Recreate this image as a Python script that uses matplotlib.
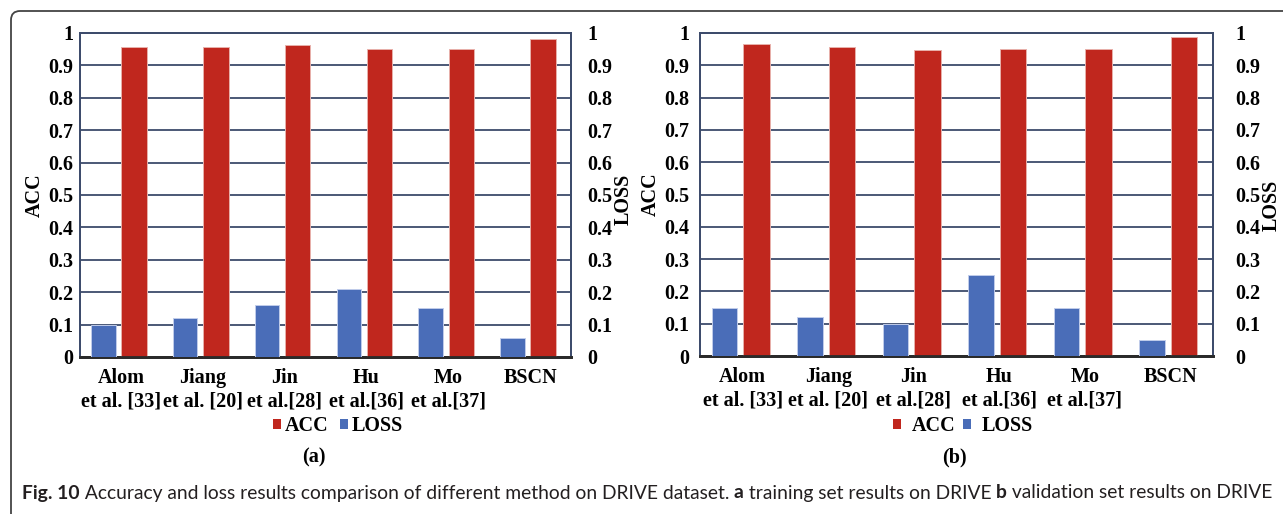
import numpy as np
import matplotlib
matplotlib.use("Agg")
import matplotlib.pyplot as plt
from matplotlib.patches import Patch, FancyBboxPatch

# -----------------------
# Data
# -----------------------

methods = ["Alom\net al. [33]", "Jiang\net al. [20]", "Jin\net al.[28]",
           "Hu\net al.[36]", "Mo\net al.[37]", "BSCN"]

acc_train = [0.958, 0.958, 0.962, 0.951, 0.951, 0.981]
loss_train = [0.10, 0.12, 0.16, 0.21, 0.15, 0.06]

acc_val = [0.965, 0.956, 0.946, 0.951, 0.951, 0.988]
loss_val = [0.15, 0.12, 0.10, 0.25, 0.15, 0.05]

yticks = [0, 0.1, 0.2, 0.3, 0.4, 0.5, 0.6, 0.7, 0.8, 0.9, 1]
panel_tags = ["(a)", "(b)"]

caption = [("Fig. 10", "bold"),
           (" Accuracy and loss results comparison of different method on DRIVE dataset. ", "normal"),
           ("a", "bold"),
           (" training set results on DRIVE ", "normal"),
           ("b", "bold"),
           (" validation set results on DRIVE", "normal")]

# -----------------------
# Style
# -----------------------

RED = "#c0271e"
BLUE = "#4a6db8"
GRID = "#3d4b6b"
SERIF = "Liberation Serif"
FS = 14.5

W, H = 1283, 514
fig = plt.figure(figsize=(W / 100, H / 100), dpi=100)


def px_rect(x0, x1, ytop, ybot):
    return [x0 / W, 1 - ybot / H, (x1 - x0) / W, (ybot - ytop) / H]


def draw_panel(rect, acc, loss, pads, acc_lab_x, loss_lab_x, loss_lab_y):
    ax = fig.add_axes(rect)
    ax2 = ax.twinx()
    x = np.arange(len(methods))

    ax.bar(x + 0.16, acc, width=0.31, color=RED, edgecolor="#e8b0aa",
           linewidth=0.7, zorder=3)
    ax2.bar(x - 0.215, loss, width=0.30, color=BLUE, edgecolor="#c0ccea",
            linewidth=0.7, zorder=3)

    for a in (ax, ax2):
        a.set_ylim(0, 1)
        a.set_xlim(-0.5, len(methods) - 0.5)
        a.set_yticks(yticks)
        a.set_yticklabels(["%g" % t for t in yticks], fontfamily=SERIF,
                          fontweight="bold", fontsize=FS)
        for s in a.spines.values():
            s.set_color(GRID)
            s.set_linewidth(1.3)
        a.spines["bottom"].set_color("#2a2a2a")
        a.spines["bottom"].set_linewidth(2.0)

    ax.set_axisbelow(True)
    ax.grid(axis="y", color=GRID, linewidth=1.3)
    ax.tick_params(axis="y", length=0, pad=pads[0])
    ax2.tick_params(axis="y", length=0, pad=pads[1])
    ax.set_xticks(x)
    ax.set_xticklabels(methods, fontfamily=SERIF, fontweight="bold",
                       fontsize=FS, linespacing=1.22)
    ax.tick_params(axis="x", length=0, pad=8)

    ax.set_ylabel("ACC", fontfamily=SERIF, fontweight="bold", fontsize=FS)
    ax.yaxis.set_label_coords(acc_lab_x, 0.5)
    ax2.set_ylabel("LOSS", fontfamily=SERIF, fontweight="bold", fontsize=FS)
    ax2.yaxis.set_label_coords(loss_lab_x, loss_lab_y)
    return ax


draw_panel(px_rect(80, 571, 33, 357), acc_train, loss_train, (5, 11.5),
           -0.072, 1.086, 0.485)
draw_panel(px_rect(700, 1213, 33, 356), acc_val, loss_val, (8, 16),
           -0.076, 1.094, 0.467)

# legends under each panel
legend_font = {"family": SERIF, "weight": "bold", "size": FS}
for cx, tpad, cspace in [(338, 0.2, 0.58), (963, 0.52, 0.39)]:
    handles = [Patch(facecolor=RED, label="ACC"), Patch(facecolor=BLUE, label="LOSS")]
    fig.legend(handles=handles, loc="center", ncol=2, frameon=False,
               bbox_to_anchor=(cx / W, 1 - 426 / H), prop=legend_font,
               handlelength=0.39, handleheight=0.39, handletextpad=tpad,
               columnspacing=cspace, borderpad=0, borderaxespad=0)

for cx, tag in zip([314, 954], panel_tags):
    fig.text(cx / W, 1 - 457 / H, tag, ha="center", va="center",
             fontfamily=SERIF, fontweight="bold", fontsize=FS)

# rounded frame around the figure block
frame = FancyBboxPatch((11 / 100, -0.5), 14.0, (H - 11) / 100 + 0.5,
                       boxstyle="round,pad=0,rounding_size=0.09",
                       transform=fig.dpi_scale_trans, facecolor="none",
                       edgecolor="#444444", linewidth=1.3, clip_on=False)
fig.add_artist(frame)

# caption, laid out piece by piece and fitted to the line width
renderer = fig.canvas.get_renderer()


def place_caption(size):
    arts = []
    x = 22
    for txt, wt in caption:
        t = fig.text(x / W, 1 - 493 / H, txt, ha="left", va="center",
                     fontfamily="Lato", fontweight=wt, fontsize=size,
                     color="#231f20")
        bb = t.get_window_extent(renderer)
        x = bb.x1
        arts.append(t)
    return arts, x


arts, xend = place_caption(13)
for a in arts:
    a.remove()
size = 13 * (1271 - 22) / (xend - 22)
place_caption(size)

fig.savefig("out.png", dpi=100)
